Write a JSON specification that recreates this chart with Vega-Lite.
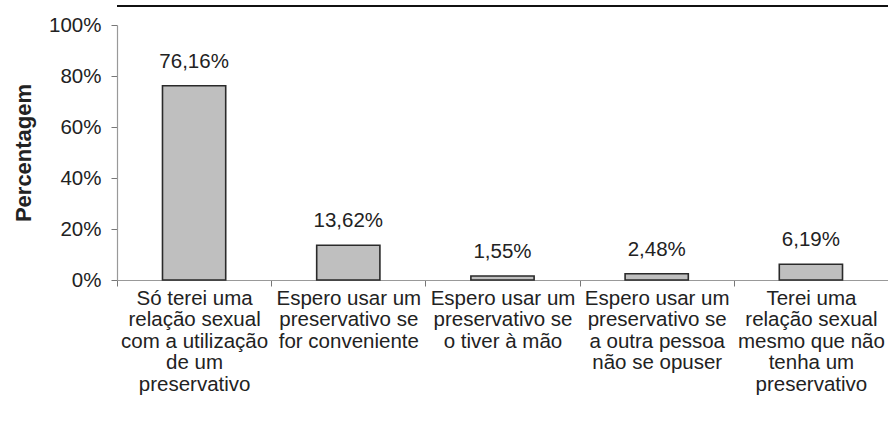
{
  "$schema": "https://vega.github.io/schema/vega-lite/v6.json",
  "autosize": {"type": "none"},
  "padding": {"left": 117, "top": 25, "right": 0, "bottom": 148},
  "width": 771,
  "height": 255,
  "background": "white",
  "config": {
    "view": {"stroke": null},
    "font": "Liberation Sans",
    "axis": {"labelFont": "Liberation Sans", "titleFont": "Liberation Sans", "labelColor": "#222", "titleColor": "#222", "grid": false}
  },
  "data": {
    "values": [
      {"cat": "Só terei uma|relação sexual|com a utilização|de um|preservativo", "pct": 76.16, "label": "76,16%", "order": 1},
      {"cat": "Espero usar um|preservativo se|for conveniente", "pct": 13.62, "label": "13,62%", "order": 2},
      {"cat": "Espero usar um|preservativo se|o tiver à mão", "pct": 1.55, "label": "1,55%", "order": 3},
      {"cat": "Espero usar um|preservativo se|a outra pessoa|não se opuser", "pct": 2.48, "label": "2,48%", "order": 4},
      {"cat": "Terei uma|relação sexual|mesmo que não|tenha um|preservativo", "pct": 6.19, "label": "6,19%", "order": 5}
    ]
  },
  "encoding": {
    "x": {
      "field": "cat", "type": "nominal", "sort": {"field": "order"},
      "scale": {"paddingInner": 0, "paddingOuter": 0},
      "axis": {
        "title": null, "labelAngle": 0, "labelExpr": "split(datum.label, '|')",
        "labelFontSize": 20.5, "labelLineHeight": 21.5, "labelBaseline": "top", "labelPadding": 2,
        "labelLimit": 0, "tickSize": 6, "tickBand": "extent", "tickColor": "#777", "domainColor": "#999", "domainWidth": 1.2
      }
    }
  },
  "layer": [
    {
      "mark": {"type": "bar", "width": {"band": 0.41}, "fill": "#bfbfbf", "stroke": "#2a2a2a", "strokeWidth": 1.6},
      "encoding": {
        "y": {
          "field": "pct", "type": "quantitative",
          "scale": {"domain": [0, 100], "nice": false},
          "axis": {
            "title": "Percentagem", "titleFontSize": 22, "titleFontWeight": "bold", "titlePadding": 13,
            "values": [0, 20, 40, 60, 80, 100], "labelExpr": "datum.value + '%'",
            "labelFontSize": 20.5, "labelPadding": 10, "tickSize": 6, "tickColor": "#777", "domainColor": "#999", "domainWidth": 1.2
          }
        }
      }
    },
    {
      "mark": {"type": "text", "baseline": "middle", "align": "center", "dy": -24, "fontSize": 20.5, "color": "#222"},
      "encoding": {
        "y": {"field": "pct", "type": "quantitative"},
        "text": {"field": "label"}
      }
    },
    {
      "data": {"values": [{"edge": 107.5}]},
      "mark": {"type": "rule", "color": "#111", "strokeWidth": 2},
      "encoding": {"y": {"field": "edge", "type": "quantitative"}, "x": null}
    }
  ]
}
